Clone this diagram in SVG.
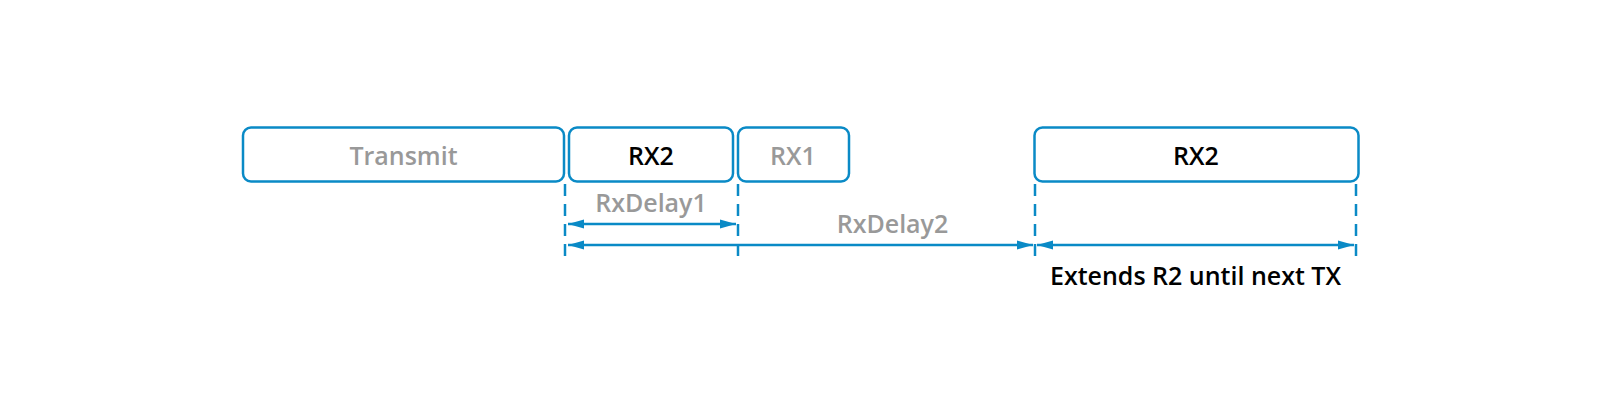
<svg xmlns="http://www.w3.org/2000/svg" width="1600" height="420" viewBox="0 0 1600 420">
<defs>
<style>
.box{fill:#fff;stroke:#0a8ac6;stroke-width:2.5}
.t{font-family:"Open Sans","Liberation Sans",sans-serif;font-weight:600;font-size:25px;text-anchor:middle}
.g{fill:#999}
.k{fill:#000}
.dash{stroke:#0a8ac6;stroke-width:2.5;stroke-dasharray:12,8;fill:none}
.arr{stroke:#0a8ac6;stroke-width:2.5;fill:none;marker-start:url(#ah);marker-end:url(#ah)}
</style>
<marker id="ah" viewBox="0 0 16 10" refX="16" refY="5" markerWidth="16" markerHeight="10" markerUnits="userSpaceOnUse" orient="auto-start-reverse">
<path d="M0,0.5 L16,5 L0,9.5 Z" fill="#0a8ac6"/>
</marker>
</defs>
<rect width="1600" height="420" fill="#fff"/>
<g id="transmit"><rect class="box" x="243" y="127.5" width="321" height="54" rx="8"/><text class="t g" x="403.5" y="165">Transmit</text></g>
<g id="rx2a"><rect class="box" x="569" y="127.5" width="164" height="54" rx="8"/><text class="t k" x="651" y="165">RX2</text></g>
<g id="rx1"><rect class="box" x="738" y="127.5" width="111" height="54" rx="8"/><text class="t g" x="793" y="165">RX1</text></g>
<g id="rx2b"><rect class="box" x="1034.5" y="127.5" width="324" height="54" rx="8"/><text class="t k" x="1196" y="165">RX2</text></g>
<g id="connectors">
<line class="dash" x1="565" y1="184" x2="565" y2="261"/>
<line class="dash" x1="738" y1="184" x2="738" y2="261"/>
<line class="dash" x1="1035" y1="184" x2="1035" y2="261"/>
<line class="dash" x1="1356" y1="184" x2="1356" y2="261"/>
<line class="arr" x1="568" y1="224" x2="736" y2="224"/>
<line class="arr" x1="568" y1="245" x2="1033" y2="245"/>
<line class="arr" x1="1037" y1="245" x2="1354" y2="245"/>
</g>
<g id="labels">
<text class="t g" x="651" y="211.5">RxDelay1</text>
<text class="t g" x="892.5" y="233">RxDelay2</text>
<text class="t k" x="1195.5" y="285">Extends R2 until next TX</text>
</g>
</svg>
